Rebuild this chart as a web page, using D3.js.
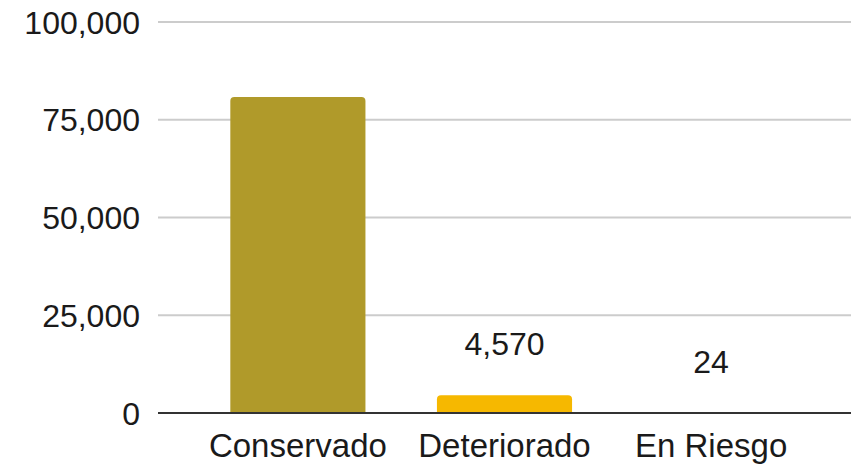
<!DOCTYPE html>
<html><head><meta charset="utf-8">
<script src="https://cdn.jsdelivr.net/npm/d3@7"></script>
<style>html,body{margin:0;padding:0;background:#fff;}svg{display:block;}</style>
</head><body>
<svg id="c" width="854" height="464"></svg>
<script>
const categories = ["Conservado", "Deteriorado", "En Riesgo"];
const values = [80800, 4570, 24];
const showLabel = [false, true, true];
const colors = ["#b09a2a", "#f6b800", "#f6b800"];
const yTicks = [0, 25000, 50000, 75000, 100000];

const rows = categories.map((c, i) => ({ cat: c, value: values[i], label: showLabel[i], color: colors[i] }));

const svg = d3.select("#c");
const font = "'Liberation Sans', Arial, sans-serif";
const x = d3.scaleBand().domain(categories).range([158, 851]).paddingInner(0.346).paddingOuter(0.35);
const y = d3.scaleLinear().domain([0, 100000]).range([413, 22]);
const fmt = d3.format(",");

// y labels
const yAxis = d3.axisLeft(y).tickValues(yTicks).tickFormat(fmt).tickSize(0).tickPadding(0);
const ga = svg.append("g").attr("transform", "translate(140,0)").call(yAxis);
ga.select(".domain").remove();
ga.selectAll("text").attr("font-family", font).attr("font-size", 32).attr("fill", "#1a1a1a").attr("dy", "0.35em");

// gridlines
svg.append("g").selectAll("line").data(yTicks.filter(d => d > 0)).join("line")
  .attr("x1", 158).attr("x2", 851).attr("y1", d => y(d)).attr("y2", d => y(d))
  .attr("stroke", "#cccccc").attr("stroke-width", 2);

// bars with rounded top corners
const r = 4;
svg.append("g").selectAll("path").data(rows).join("path")
  .attr("fill", d => d.color)
  .attr("d", d => {
    const x0 = x(d.cat), w = x.bandwidth(), y0 = y(0), y1 = y(d.value);
    const h = y0 - y1;
    if (h <= 0.5) return "";
    const rr = Math.min(r, h);
    return `M${x0},${y0}V${y1 + rr}Q${x0},${y1} ${x0 + rr},${y1}H${x0 + w - rr}Q${x0 + w},${y1} ${x0 + w},${y1 + rr}V${y0}Z`;
  });

// baseline
svg.append("line").attr("x1", 158).attr("x2", 851).attr("y1", y(0)).attr("y2", y(0))
  .attr("stroke", "#333333").attr("stroke-width", 2);

// value labels
svg.append("g").selectAll("text").data(rows.filter(d => d.label)).join("text")
  .attr("x", d => x(d.cat) + x.bandwidth() / 2)
  .attr("y", d => y(d.value) - 40)
  .attr("text-anchor", "middle").attr("font-family", font).attr("font-size", 32).attr("fill", "#1a1a1a")
  .text(d => fmt(d.value));

// x labels
const xAxis = d3.axisBottom(x).tickSize(0).tickPadding(0);
const gx = svg.append("g").attr("transform", "translate(0,457)").call(xAxis);
gx.select(".domain").remove();
gx.selectAll("text").attr("font-family", font).attr("font-size", 33).attr("fill", "#1a1a1a").attr("dy", "0");
</script>
</body></html>
